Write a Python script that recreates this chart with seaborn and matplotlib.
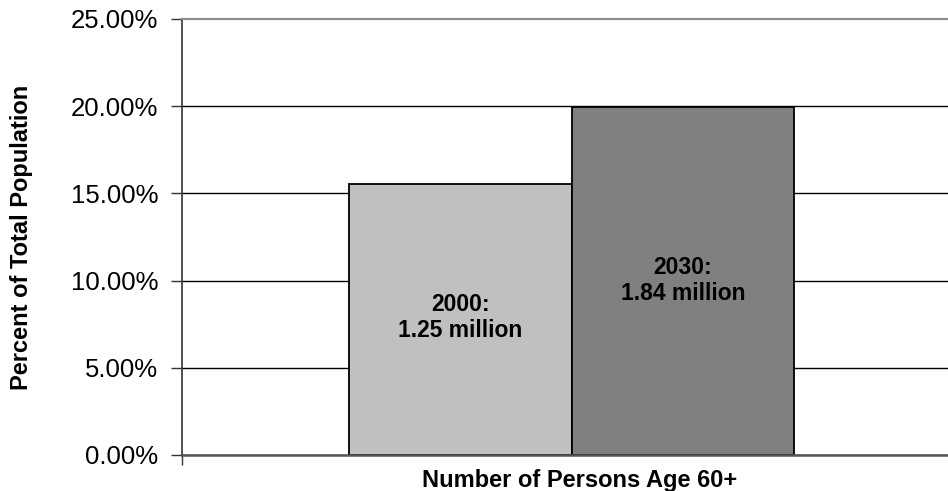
import matplotlib
matplotlib.use("Agg")
import matplotlib.pyplot as plt
import matplotlib.ticker as mticker
import seaborn as sns
import pandas as pd

# Share of total population aged 60+
years = ["2000", "2030"]
shares = [0.1555, 0.1998]
persons = ["1.25 million", "1.84 million"]
group = "Number of Persons Age 60+"
colors = ["#c0c0c0", "#808080"]
label_heights = [0.079, 0.100]

df = pd.DataFrame({"group": [group] * len(years), "year": years, "share": shares})

sns.set_theme(style="white")
plt.rcParams["font.family"] = ["Liberation Sans", "DejaVu Sans"]
plt.rcParams["text.color"] = "black"
plt.rcParams["axes.labelcolor"] = "black"

fig = plt.figure(figsize=(9.48, 4.91), dpi=100)
ax = fig.add_axes([182 / 948, 36 / 491, 1 - 182 / 948, 436 / 491])

sns.barplot(data=df, x="group", y="share", hue="year", palette=colors,
            width=0.571, edgecolor="black", linewidth=1.3, legend=False,
            saturation=1, ax=ax)

ax.set_xlim(-0.5, 0.483)
ax.set_ylim(0, 0.25)
ax.yaxis.set_major_locator(mticker.MultipleLocator(0.05))
ax.yaxis.set_major_formatter(mticker.FuncFormatter(lambda v, _: f"{v * 100:.2f}%"))
ax.tick_params(axis="y", labelsize=18.5, length=8, width=1, color="#333333",
               left=True, pad=9, labelcolor="black")

# small category-boundary tick under the left end of the base line
ax.set_xticks([-0.5])
ax.set_xticklabels([""])
ax.tick_params(axis="x", bottom=True, length=7, width=1, color="#333333")

ax.set_axisbelow(True)
ax.yaxis.grid(True, color="black", linewidth=1)

# plot-area top edge in grey
ax.spines["top"].set_color("#8c8c8c")
ax.spines["top"].set_linewidth(1.6)
ax.spines["right"].set_visible(False)
ax.spines["left"].set_color("#333333")
ax.spines["left"].set_linewidth(1.2)
ax.spines["bottom"].set_color("#555555")
ax.spines["bottom"].set_linewidth(1.8)
for line, loc in zip(ax.yaxis.get_gridlines(), ax.get_yticks()):
    if abs(loc - 0.25) < 1e-9:
        line.set_visible(False)

ax.set_xlabel(group, fontsize=17, fontweight="bold", color="black")
ax.xaxis.set_label_coords((580 - 182) / (948 - 182), -25 / 436)
ax.xaxis.label.set_va("center")
ax.set_ylabel("Percent of Total Population", fontsize=17, fontweight="bold",
              color="black")
ax.yaxis.set_label_coords((22 - 182) / (948 - 182), 0.5)
ax.yaxis.label.set_va("center")

bars = [p for p in ax.patches if p.get_height() > 0]
bars.sort(key=lambda p: p.get_x())
for bar, yr, amount, h in zip(bars, years, persons, label_heights):
    ax.text(bar.get_x() + bar.get_width() / 2, h, f"{yr}:\n{amount}",
            ha="center", va="center", fontsize=16.5, fontweight="bold",
            linespacing=1.15, color="black")

fig.savefig("out.png", dpi=100)
